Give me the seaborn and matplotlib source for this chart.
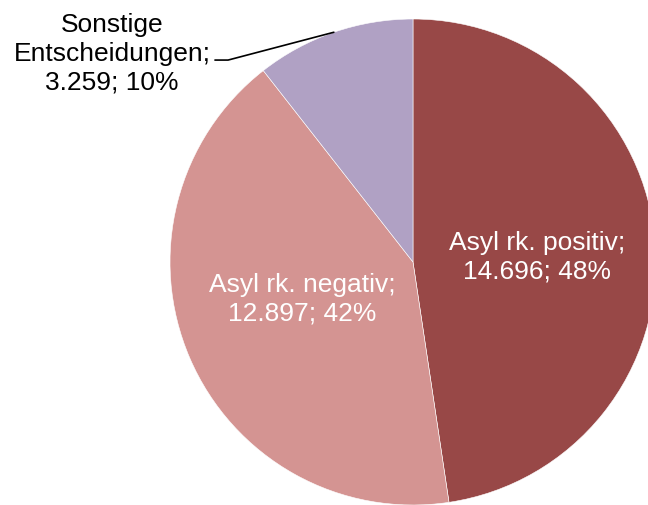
import matplotlib
matplotlib.use("Agg")
import matplotlib.pyplot as plt
import seaborn as sns
import numpy as np

# data
categories = ["Asyl rk. positiv", "Asyl rk. negativ", "Sonstige\nEntscheidungen"]
values = [14696, 12897, 3259]
shares = ["48%", "42%", "10%"]
colors = ["#984847", "#D49492", "#B0A1C4"]

sns.set_theme(style="white")
plt.rcParams['font.family'] = ['Liberation Sans', 'DejaVu Sans']

fig = plt.figure(figsize=(6.48, 5.06), dpi=100)
ax = fig.add_axes([170 / 648, 0.0, 486 / 648, 486 / 506])

wedges, _ = ax.pie(values, colors=colors, startangle=90, counterclock=False,
                   wedgeprops=dict(edgecolor="white", linewidth=0.4))
ax.set_xlim(-1, 1)
ax.set_ylim(-1, 1)
ax.set_aspect("equal")
for w in wedges:
    w.set_clip_on(False)

def fmt(v):
    return f"{v:,}".replace(",", ".")

labels = [f"{c};\n{fmt(v)}; {s}" for c, v, s in zip(categories, values, shares)]

fs = 19
ls = 1.25
ax.text(0.51, 0.025, labels[0], color="white", fontsize=fs, ha="center", va="center",
        linespacing=ls)
ax.text(-0.457, -0.148, labels[1], color="white", fontsize=fs, ha="center", va="center",
        linespacing=ls)

# outside label for the small slice with leader line
w = wedges[2]
mid = np.deg2rad((w.theta1 + w.theta2) / 2)
ex, ey = np.cos(mid), np.sin(mid)
ax.plot([-0.815, -0.761, ex], [0.831, 0.831, ey], color="black", lw=1.2, clip_on=False)
ax.text(-1.239, 0.86, labels[2], color="black", fontsize=fs, ha="center", va="center",
        linespacing=ls, clip_on=False)

fig.savefig("out.png", dpi=100, facecolor="white")
